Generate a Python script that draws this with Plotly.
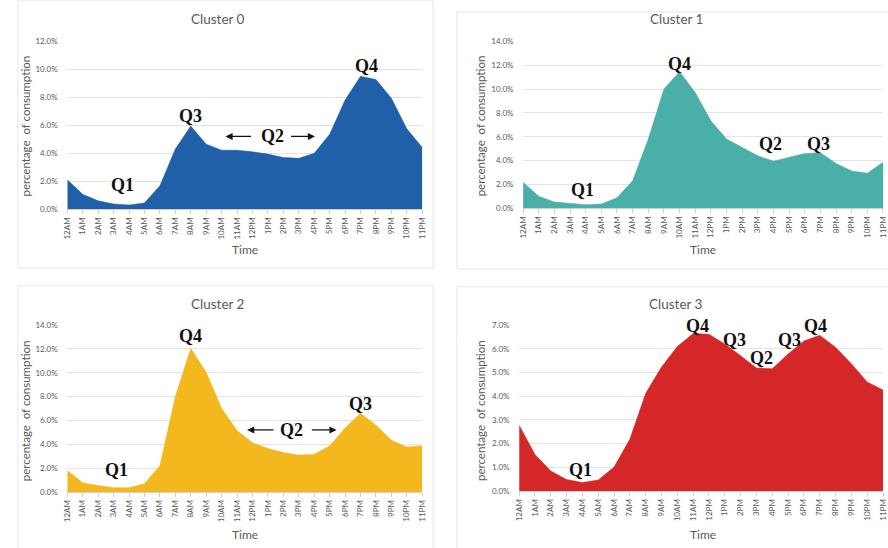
import plotly.graph_objects as go

hours = ["12AM", "1AM", "2AM", "3AM", "4AM", "5AM", "6AM", "7AM", "8AM", "9AM", "10AM", "11AM",
         "12PM", "1PM", "2PM", "3PM", "4PM", "5PM", "6PM", "7PM", "8PM", "9PM", "10PM", "11PM"]

cluster0 = [2.1, 1.06, 0.6, 0.38, 0.3, 0.45, 1.67, 4.3, 5.94, 4.65, 4.22, 4.22,
            4.1, 3.94, 3.7, 3.64, 4.0, 5.35, 7.8, 9.5, 9.27, 7.93, 5.75, 4.41]
cluster1 = [2.17, 1.0, 0.52, 0.38, 0.3, 0.35, 0.88, 2.3, 5.8, 10.0, 11.45, 9.7,
            7.33, 5.8, 5.08, 4.4, 3.95, 4.3, 4.6, 4.65, 3.76, 3.13, 2.94, 3.85]
cluster2 = [1.8, 0.77, 0.55, 0.36, 0.36, 0.69, 2.2, 8.0, 12.04, 10.05, 7.02, 5.15,
            4.13, 3.64, 3.3, 3.09, 3.17, 3.86, 5.37, 6.6, 5.6, 4.33, 3.77, 3.88]
cluster3 = [2.77, 1.54, 0.84, 0.48, 0.36, 0.46, 1.01, 2.19, 4.12, 5.23, 6.1, 6.64,
            6.61, 6.2, 5.71, 5.19, 5.16, 5.78, 6.33, 6.57, 6.06, 5.37, 4.6, 4.26]

titles = ["Cluster 0", "Cluster 1", "Cluster 2", "Cluster 3"]
colors = ["#1F60A8", "#4AAFA7", "#F2B81D", "#D52728"]
y_max = [12, 14, 14, 7]
y_step = [2, 2, 2, 1]

# Q labels: (panel, text, x index, y value)
q_labels = [
    (0, "Q1", 3.6, 1.75), (0, "Q3", 8.0, 6.67), (0, "Q2", 13.3, 5.2), (0, "Q4", 19.4, 10.25),
    (1, "Q1", 3.8, 1.56), (1, "Q4", 10.0, 12.1), (1, "Q2", 15.8, 5.35), (1, "Q3", 18.9, 5.35),
    (2, "Q1", 3.2, 1.8), (2, "Q4", 8.0, 13.1), (2, "Q2", 14.55, 5.2), (2, "Q3", 19.0, 7.4),
    (3, "Q1", 3.85, 0.87), (3, "Q4", 11.3, 6.97), (3, "Q3", 13.6, 6.35), (3, "Q2", 15.35, 5.6),
    (3, "Q3", 17.1, 6.35), (3, "Q4", 18.75, 6.97),
]
# Q2 arrows: (panel, x from, x to, y)
q_arrows = [
    (0, 12.0, 10.25, 5.2), (0, 14.4, 16.05, 5.2),
    (2, 13.45, 11.65, 5.2), (2, 15.75, 17.45, 5.2),
]

W, H = 888, 548
# plot-area pixel boxes: (left, right, bottom(0%), top(max))
boxes = [(63, 422, 208, 37), (524, 888, 207, 37), (63, 422, 496, 326), (520, 888, 495, 326)]
title_pos = [(215, 14), (679, 14), (215, 305), (679, 305)]
ytitle_pos = [(21, 123), (481, 123), (21, 413), (481, 413)]
xtitle_pos = [(243, 249), (706, 249), (243, 539), (706, 539)]
frames = [(13, 433, -5, 268), (457, 900, 7, 269), (13, 433, 286, 560), (457, 900, 287, 560)]

series = [cluster0, cluster1, cluster2, cluster3]
fig = go.Figure()
layout = {}
annotations = []
shapes = []
GRAY = "#595959"
FONT = "Lato"


def paper_text(text, px, py, size, angle=0):
    return dict(text=text, x=px / W, y=1 - py / H, xref="paper", yref="paper",
                xanchor="center", yanchor="middle", textangle=angle, showarrow=False,
                font=dict(family=FONT, size=size, color=GRAY))


for i in range(4):
    sfx = "" if i == 0 else str(i + 1)
    xa, ya = "x" + sfx, "y" + sfx
    fig.add_trace(go.Scatter(
        x=list(range(24)), y=series[i], mode="lines", fill="tozeroy",
        fillcolor=colors[i], line=dict(color=colors[i], width=0.5),
        xaxis=xa, yaxis=ya, showlegend=False, hoverinfo="skip"))
    l, r, b, t = boxes[i]
    layout["xaxis" + sfx] = dict(
        domain=[l / W, r / W], anchor=ya, range=[0, 23],
        tickvals=list(range(24)), ticktext=hours, tickangle=-90,
        tickfont=dict(family=FONT, size=8, color=GRAY),
        ticks="outside", ticklen=4, tickcolor="#D0D0D0",
        showgrid=False, showline=True, linecolor="#D0D0D0", linewidth=1,
        zeroline=False, fixedrange=True)
    layout["yaxis" + sfx] = dict(
        domain=[1 - b / H, 1 - t / H], anchor=xa, range=[0, y_max[i]],
        dtick=y_step[i], tick0=0, tickformat=".1f", ticksuffix="%",
        tickfont=dict(family=FONT, size=8, color=GRAY),
        ticks="outside", ticklen=7, tickcolor="rgba(0,0,0,0)",
        showgrid=True, gridcolor="#E3E3E3", gridwidth=1,
        showline=False, zeroline=False, fixedrange=True)
    annotations.append(paper_text(titles[i], *title_pos[i], 13.5))
    annotations.append(paper_text("percentage  of consumption", *ytitle_pos[i], 11.5, -90))
    annotations.append(paper_text("Time", *xtitle_pos[i], 12))
    fl, fr, ft, fb = frames[i]
    shapes.append(dict(type="rect", xref="paper", yref="paper",
                       x0=fl / W, x1=fr / W, y0=1 - fb / H, y1=1 - ft / H,
                       line=dict(color="#E6E6E6", width=1), fillcolor="rgba(0,0,0,0)", layer="below"))

for p, txt, x, y in q_labels:
    sfx = "" if p == 0 else str(p + 1)
    annotations.append(dict(text="<b>%s</b>" % txt, x=x, y=y, xref="x" + sfx, yref="y" + sfx,
                            xanchor="center", yanchor="middle", showarrow=False,
                            font=dict(family="Liberation Serif", size=18, color="#111111")))
for p, x0, x1, y in q_arrows:
    sfx = "" if p == 0 else str(p + 1)
    annotations.append(dict(text="", x=x1, y=y, ax=x0, ay=y, xref="x" + sfx, yref="y" + sfx,
                            axref="x" + sfx, ayref="y" + sfx, showarrow=True,
                            arrowhead=2, arrowsize=1.1, arrowwidth=1.3, arrowcolor="#111111"))

fig.update_layout(**layout)
fig.update_layout(width=W, height=H, autosize=False, margin=dict(l=0, r=0, t=0, b=0),
                  paper_bgcolor="white", plot_bgcolor="white",
                  annotations=annotations, shapes=shapes, showlegend=False)
fig.write_html("out.html", config={"displayModeBar": False},
               post_script="document.body.style.margin='0';document.body.style.overflow='hidden';")
